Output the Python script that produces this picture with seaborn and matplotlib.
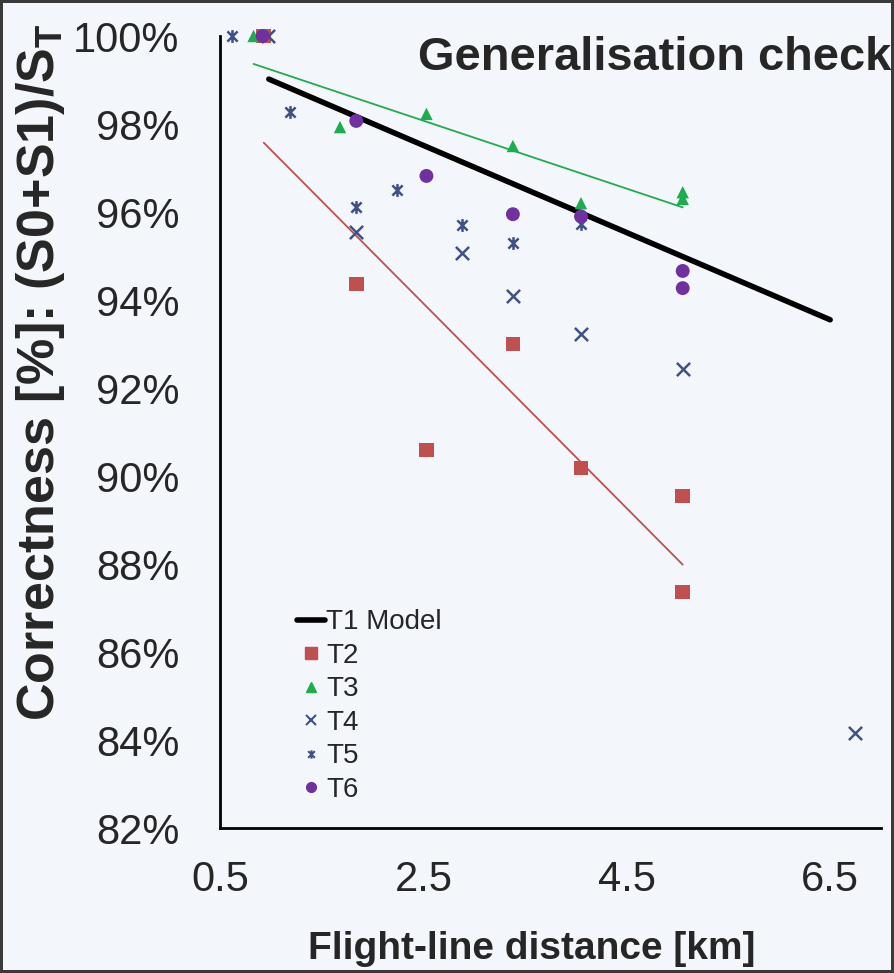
import numpy as np
import matplotlib
matplotlib.use("Agg")
import matplotlib.pyplot as plt
from matplotlib import font_manager
from matplotlib.path import Path
from matplotlib.lines import Line2D
import seaborn as sns

# ---- data (x = km, y = % correct) ----
model_x = [0.98, 6.5]
model_y = [99.02, 93.55]

t2_x = [0.93, 1.84, 2.53, 3.38, 4.05, 5.05, 5.05]
t2_y = [100.0, 94.36, 90.59, 93.0, 90.18, 89.55, 87.36]

t3_x = [0.83, 1.68, 2.53, 3.38, 4.05, 5.05, 5.05]
t3_y = [100.0, 97.93, 98.23, 97.5, 96.2, 96.45, 96.3]

t4_x = [0.97, 1.84, 2.88, 3.38, 4.05, 5.05, 6.74]
t4_y = [100.0, 95.55, 95.07, 94.09, 93.23, 92.43, 84.16]

t5_x = [0.62, 1.19, 1.84, 2.24, 2.88, 3.38, 4.05]
t5_y = [100.0, 98.27, 96.11, 96.5, 95.7, 95.3, 95.73]

t6_x = [0.92, 1.84, 2.53, 3.38, 4.05, 5.05, 5.05]
t6_y = [100.0, 98.07, 96.82, 95.95, 95.9, 94.66, 94.27]

x_ticks = [0.5, 2.5, 4.5, 6.5]
y_ticks = [82, 84, 86, 88, 90, 92, 94, 96, 98, 100]

# colours
RED = "#C0504D"
GREEN = "#1EAD4E"
BLUE = "#3F5287"
PURPLE = "#7030A0"
BG = "#F3F6FA"

sns.set_style("white")
installed = {f.name for f in font_manager.fontManager.ttflist}
narrow = "Liberation Sans Narrow" if "Liberation Sans Narrow" in installed else "Liberation Sans"
plt.rcParams["font.family"] = [narrow, "DejaVu Sans"]
plt.rcParams["mathtext.fontset"] = "custom"
plt.rcParams["mathtext.rm"] = narrow
plt.rcParams["mathtext.bf"] = narrow + ":bold"

fig = plt.figure(figsize=(8.94, 9.73), dpi=100, facecolor=BG)
fig.patch.set_edgecolor("#3a3a3a")
fig.patch.set_linewidth(3)
ax = fig.add_axes([220 / 894, 1 - 828 / 973, 661 / 894, 792 / 973])
ax.set_facecolor(BG)

# asterisk marker (x plus a vertical bar), like the spreadsheet "star"
star = Path([(-1, -1), (1, 1), (-1, 1), (1, -1), (0, -1.25), (0, 1.25)],
            [Path.MOVETO, Path.LINETO, Path.MOVETO, Path.LINETO, Path.MOVETO, Path.LINETO])

# trend lines for T2 and T3 (least squares over the data range)
sns.regplot(x=t2_x, y=t2_y, scatter=False, ci=None, truncate=True, ax=ax,
            line_kws=dict(color=RED, lw=1.3))
sns.regplot(x=t3_x, y=t3_y, scatter=False, ci=None, truncate=True, ax=ax,
            line_kws=dict(color=GREEN, lw=1.3))

# T1 model
sns.lineplot(x=model_x, y=model_y, color="black", lw=4, ax=ax)

sns.scatterplot(x=t2_x, y=t2_y, marker="s", s=110, color=RED, edgecolor="none", ax=ax, clip_on=False, zorder=5)
sns.scatterplot(x=t3_x, y=t3_y, marker="^", s=80, color=GREEN, edgecolor="none", ax=ax, clip_on=False, zorder=5)
sns.scatterplot(x=t4_x, y=t4_y, marker="x", s=90, color=BLUE, linewidth=1.8, ax=ax, clip_on=False, zorder=5)
sns.scatterplot(x=t5_x, y=t5_y, marker=star, s=85, color=BLUE, edgecolor=BLUE, linewidth=1.8, ax=ax, clip_on=False, zorder=5)
sns.scatterplot(x=t6_x, y=t6_y, marker="o", s=100, color=PURPLE, edgecolor="none", ax=ax, clip_on=False, zorder=6)

ax.set_xlim(0.5, 7.0)
ax.set_ylim(82, 100)
ax.set_xticks(x_ticks)
ax.set_xticklabels([f"{v:.1f}" for v in x_ticks])
ax.set_yticks(y_ticks)
ax.set_yticklabels([f"{v}%" for v in y_ticks])
ax.tick_params(axis="both", labelsize=30, width=2, color="black", direction="out")
ax.tick_params(axis="y", length=13, pad=16)
ax.tick_params(axis="x", length=18, pad=5)
sns.despine(ax=ax)
for side in ["left", "bottom"]:
    ax.spines[side].set_linewidth(2)
    ax.spines[side].set_color("black")

ax.set_xlabel("Flight-line distance [km]", fontsize=28, fontweight="bold")
ax.xaxis.set_label_coords(0.472, -0.13)
ax.set_ylabel(r"Correctness [%]: (S0+S1)/S$_\mathbf{T}$", fontsize=37.5, fontweight="bold")
ax.yaxis.set_label_coords(-0.232, 0.576)

fig.text(418 / 894, 1 - 70 / 973, "Generalisation check", fontsize=33.8,
         fontweight="bold", va="baseline", ha="left")

handles = [
    Line2D([], [], color="black", lw=4),
    Line2D([], [], color=RED, marker="s", ls="none", markersize=9),
    Line2D([], [], color=GREEN, marker="^", ls="none", markersize=7),
    Line2D([], [], color=BLUE, marker="x", ls="none", markersize=7, mew=1.5),
    Line2D([], [], color=BLUE, marker=star, ls="none", markersize=6, mew=1.5),
    Line2D([], [], color=PURPLE, marker="o", ls="none", markersize=7),
]
labels = ["T1 Model", "T2", "T3", "T4", "T5", "T6"]
ax.legend(handles, labels, loc="upper left", bbox_to_anchor=(0.1, 0.29),
          frameon=False, fontsize=20, handlelength=1.0, handletextpad=0.05,
          labelspacing=0.27, borderaxespad=0)

fig.savefig("out.png", dpi=100, facecolor=BG, edgecolor=fig.get_edgecolor())
